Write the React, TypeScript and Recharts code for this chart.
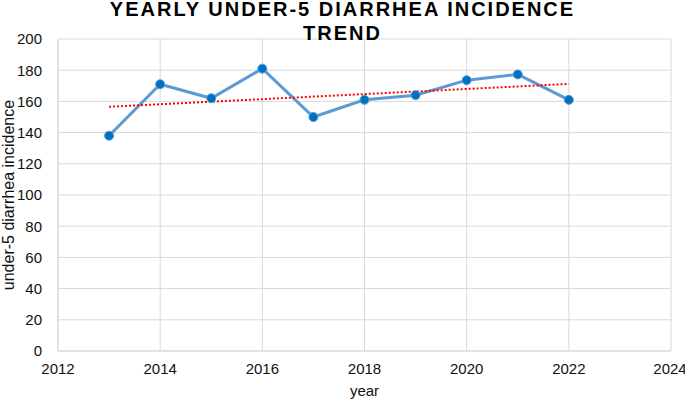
import {
  ComposedChart,
  Line,
  XAxis,
  YAxis,
  CartesianGrid,
} from 'recharts'

const years = [2013, 2014, 2015, 2016, 2017, 2018, 2019, 2020, 2021, 2022]
const incidence = [138, 171, 162, 181, 150, 161, 164, 173.6, 177.3, 161]
const xTicks = [2012, 2014, 2016, 2018, 2020, 2022, 2024]
const yTicks = [0, 20, 40, 60, 80, 100, 120, 140, 160, 180, 200]

// linear trendline (least squares), like the spreadsheet one
const n = years.length
const mx = years.reduce((a, b) => a + b, 0) / n
const my = incidence.reduce((a, b) => a + b, 0) / n
const slope =
  years.reduce((s, x, i) => s + (x - mx) * (incidence[i] - my), 0) /
  years.reduce((s, x) => s + (x - mx) * (x - mx), 0)

const data = years.map((year, i) => ({
  year,
  value: incidence[i],
  trend: my + slope * (year - mx),
}))

const font = '"Liberation Sans", Arial, sans-serif'
const tick = { fontSize: 15, fill: '#111', fontFamily: font }

const App = () => {
  return (
    <div style={{ position: 'absolute', left: 0, top: 0, width: 685, height: 400, background: '#fff' }}>
      <ComposedChart
        width={685}
        height={400}
        data={data}
        margin={{ top: 39, right: 14, left: 0, bottom: 0 }}
      >
        <CartesianGrid stroke="#d9d9d9" strokeWidth={1} />
        <XAxis
          dataKey="year"
          type="number"
          domain={[2012, 2024]}
          ticks={xTicks}
          height={49}
          tick={tick}
          tickLine={false}
          axisLine={{ stroke: '#d9d9d9' }}
          tickMargin={6}
          label={{ value: 'year', position: 'insideBottom', offset: 4, style: { fontSize: 15, fill: '#111', fontFamily: font } }}
        />
        <YAxis
          type="number"
          domain={[0, 200]}
          ticks={yTicks}
          width={58}
          tick={tick}
          tickLine={false}
          axisLine={{ stroke: '#d9d9d9' }}
          tickMargin={10}
          label={{
            value: 'under-5 diarrhea incidence',
            angle: -90,
            position: 'insideLeft',
            offset: 0,
            dx: 8,
            style: { textAnchor: 'middle', fontSize: 16, fill: '#111', fontFamily: font },
          }}
        />
        <Line
          dataKey="value"
          stroke="#5b9bd5"
          strokeWidth={3}
          dot={{ r: 4.5, fill: '#0070c0', stroke: '#5b9bd5', strokeWidth: 1 }}
          isAnimationActive={false}
        />
        <Line
          dataKey="trend"
          stroke="#ff0000"
          strokeWidth={2}
          strokeDasharray="2 2"
          dot={false}
          isAnimationActive={false}
        />
      </ComposedChart>
      <div
        style={{
          position: 'absolute',
          left: 0,
          top: -3,
          width: 685,
          textAlign: 'center',
          fontFamily: font,
          fontWeight: 'bold',
          fontSize: 20,
          letterSpacing: 2,
          lineHeight: '24px',
          color: '#000',
        }}
      >
        YEARLY UNDER-5 DIARRHEA INCIDENCE
        <br />
        TREND
      </div>
    </div>
  )
}

export default App
